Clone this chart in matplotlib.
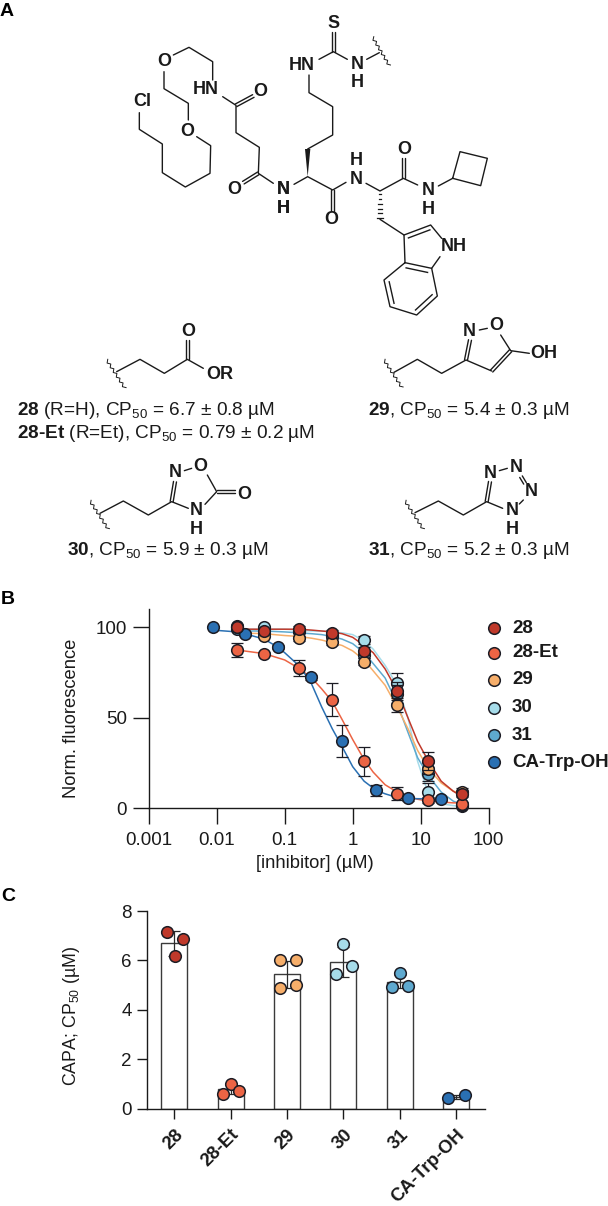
import numpy as np
import matplotlib
matplotlib.use('Agg')
import matplotlib.pyplot as plt
from matplotlib.patches import Polygon
from matplotlib.transforms import ScaledTranslation

plt.rcParams['font.family'] = ['Liberation Sans', 'DejaVu Sans']
plt.rcParams['mathtext.fontset'] = 'custom'
plt.rcParams['mathtext.rm'] = 'Liberation Sans'
plt.rcParams['mathtext.bf'] = 'Liberation Sans:bold'
plt.rcParams['mathtext.it'] = 'Liberation Sans:italic'
plt.rcParams['mathtext.default'] = 'rm'

# ---------- DATA ----------
names = ['28', '28-Et', '29', '30', '31', 'CA-Trp-OH']
colors = {'28': '#c0392b', '28-Et': '#ec6444', '29': '#f6ae6a',
          '30': '#a6dcea', '31': '#5ea9cf', 'CA-Trp-OH': '#2a70b3'}
draw_order = ['30', '31', '28-Et', 'CA-Trp-OH', '29', '28']

conc = [0.02, 0.05, 0.16, 0.49, 1.47, 4.5, 13, 40]
conc_ca = [0.0088, 0.026, 0.08, 0.24, 0.7, 2.2, 6.6, 20]
pts_28 = [100, 98, 99, 97, 87, 65, 26, 8]
pts_28et = [87.5, 85.5, 77.5, 60, 26, 8, 4.5, 2.5]
pts_29 = [100, 95.5, 94, 92, 81, 57, 22, 9]
pts_30 = [100.5, 100, 98, 96, 93, 69, 9, 1]
pts_31 = [99, 97, 98, 95, 85, 63, 19, 2]
pts_ca = [100, 96.3, 89.3, 72.4, 37.2, 10, 5.5, 5]

err_28 = [1, 1, 1.5, 1.5, 2, 5, 5, 2]
err_28et = [4, 1, 4.5, 9, 8, 3.5, 1.5, 1]
err_29 = [1, 1, 1.5, 1.5, 2, 4, 3, 2]
err_30 = [1, 1, 1, 1, 2, 6, 5, 1]
err_31 = [1, 1, 1, 1, 2, 5, 4, 1]
err_ca = [0, 1, 1, 1.5, 9, 3, 1.5, 1]

curve_x = [0.02, 0.05, 0.1, 0.16, 0.25, 0.35, 0.5, 0.7, 1, 1.47, 2, 3, 4.5, 6.5, 9, 13, 20, 30, 40]
curve_28 = [99, 99, 99, 99, 98.5, 98, 97.5, 96.5, 94.5, 90, 86, 77, 65, 50, 37, 26, 15, 9.5, 6.5]
curve_28et = [87.5, 85.5, 82, 77.5, 72, 66, 59, 49, 38, 27, 20, 13, 9, 6.5, 5, 4, 3.5, 3, 3]
curve_29 = [97, 96.5, 95.5, 95, 94, 93, 91.5, 90, 87, 82, 76, 68, 56, 44, 32, 22, 14, 9.5, 8]
curve_30 = [99, 99, 99, 98.5, 98, 98, 97.5, 97, 96, 92.5, 88, 79, 68, 50, 26, 8, 2.5, 1.5, 1]
curve_31 = [98, 98, 97.5, 97, 96.5, 96, 95, 93.5, 91, 86, 80, 72, 58, 42, 28, 18, 9, 4, 2]
curve_x_ca = [0.0088, 0.02, 0.026, 0.05, 0.08, 0.1, 0.16, 0.24, 0.35, 0.5, 0.7, 1, 1.47, 2.2, 3, 4.5, 6.6, 9, 13, 20]
curve_ca = [98.5, 97.5, 96.5, 93.5, 89, 86, 79, 70, 56, 44, 34, 23, 15, 10, 8, 6, 5.5, 5.3, 5.2, 5.1]

points = {'28': pts_28, '28-Et': pts_28et, '29': pts_29, '30': pts_30, '31': pts_31, 'CA-Trp-OH': pts_ca}
errors = {'28': err_28, '28-Et': err_28et, '29': err_29, '30': err_30, '31': err_31, 'CA-Trp-OH': err_ca}
curves = {'28': curve_28, '28-Et': curve_28et, '29': curve_29, '30': curve_30, '31': curve_31, 'CA-Trp-OH': curve_ca}

xticks_b = [0.001, 0.01, 0.1, 1, 10, 100]
xticklabels_b = ['0.001', '0.01', '0.1', '1', '10', '100']
yticks_b = [0, 50, 100]

bar_means = [6.69, 0.78, 5.44, 5.94, 5.14, 0.48]
bar_errs = [0.5, 0.2, 0.55, 0.6, 0.25, 0.08]
rep_28 = [7.14, 6.87, 6.18]
rep_28et = [0.6, 1.0, 0.73]
rep_29 = [6.0, 6.0, 4.87, 5.0]
rep_30 = [6.68, 5.78, 5.47]
rep_31 = [5.5, 4.94, 4.98]
rep_ca = [0.42, 0.54]
off_28 = [-0.13, 0.154, 0.006]
off_28et = [-0.135, 0.0, 0.147]
off_29 = [-0.13, 0.154, -0.13, 0.154]
off_30 = [0.0, 0.154, -0.136]
off_31 = [0.0, -0.142, 0.148]
off_ca = [-0.142, 0.148]
replicates = [rep_28, rep_28et, rep_29, rep_30, rep_31, rep_ca]
offsets = [off_28, off_28et, off_29, off_30, off_31, off_ca]

W, H = 608, 1206
EDGE = '#1c1c24'
MS = 70
MLW = 1.1
fig = plt.figure(figsize=(W / 100, H / 100), dpi=100, facecolor='white')


def axes_px(l, t, r, b):
    return fig.add_axes([l / W, 1 - b / H, (r - l) / W, (b - t) / H])


# ---------- Overlay: structures and text in pixel coordinates ----------
ov = fig.add_axes([0, 0, 1, 1], zorder=0)
ov.set_xlim(0, W)
ov.set_ylim(H, 0)
ov.axis('off')

BK = '#1a1a1a'


def crop(x0, y0):
    return lambda p: (x0 + p[0] / 3, y0 + p[1] / 3)


z4 = crop(0, 0)
z5 = crop(240, 0)
f28 = crop(90, 315)
f29 = crop(380, 315)
f30 = crop(80, 450)
f31 = crop(390, 450)


def line(pts, tf, lw=1.0):
    q = np.array([tf(p) for p in pts])
    ov.plot(q[:, 0], q[:, 1], color=BK, lw=lw, solid_capstyle='round', solid_joinstyle='round')


def dbl(a, b, tf, gap=3, lw=1.0):
    a, b = np.array(tf(a)), np.array(tf(b))
    n = np.array([-(b - a)[1], (b - a)[0]])
    n = n / np.hypot(*n) * gap / 2
    for s in (1, -1):
        ov.plot([a[0] + s * n[0], b[0] + s * n[0]], [a[1] + s * n[1], b[1] + s * n[1]],
                color=BK, lw=lw, solid_capstyle='round')


def atom(s, p, tf, size=13):
    x, y = tf(p)
    ov.text(x, y, s, ha='center', va='center', fontsize=size, fontweight='bold', color=BK,
            linespacing=1.08, multialignment='center')


def squiggle(a, b, tf):
    a, b = np.array(tf(a)), np.array(tf(b))
    d = b - a
    L = np.hypot(*d)
    n = np.array([-d[1], d[0]]) / L
    k = 12
    q = np.array([a + d * i / k + n * (1.3 if i % 2 else -1.3) for i in range(k + 1)])
    ov.plot(q[:, 0], q[:, 1], color=BK, lw=0.7)


def inner(a, b, c, tf, t=0.13):
    a, b, c = [np.array(tf(p)) for p in (a, b, c)]
    a2 = a + (c - a) * t * 1.5
    b2 = b + (c - b) * t * 1.5
    ov.plot([a2[0], b2[0]], [a2[1], b2[1]], color=BK, lw=1.0)


# main scaffold, left part
line([(418, 338), (418, 388), (487, 432), (487, 518), (556, 561), (630, 520), (632, 437), (590, 410)], z4)
line([(565, 360), (565, 310), (492, 266), (492, 215)], z4)
line([(520, 165), (567, 142), (638, 185), (638, 240)], z4)
line([(668, 290), (708, 316), (708, 398), (778, 442), (775, 520), (820, 550)], z4)
dbl((708, 316), (760, 288), z4)
dbl((775, 520), (730, 548), z4)
atom('Cl', (428, 306), z4)
atom('O', (562, 393), z4)
atom('O', (493, 183), z4)
atom('HN', (617, 270), z4)
atom('O', (782, 275), z4)
atom('O', (703, 567), z4)
atom('N\nH', (849, 597), z4)

# main scaffold, right part
line([(162, 553), (203, 530), (278, 570), (318, 547)], z5)
line([(203, 447), (278, 405), (278, 320), (207, 278), (207, 225)], z5)
ov.add_patch(Polygon([z5((203, 530)), z5((195, 447)), z5((211, 447))], closed=True, fc=BK, ec='none'))
line([(237, 178), (280, 155), (322, 178)], z5)
dbl((280, 155), (280, 95), z5)
line([(380, 178), (418, 158)], z5)
squiggle((398, 112), (448, 197), z5)
dbl((278, 570), (278, 632), z5)
line([(378, 550), (420, 573), (490, 535), (533, 555)], z5)
dbl((490, 535), (490, 475), z5)
line([(595, 558), (638, 535)], z5)
line([(638, 535), (660, 455), (742, 475), (722, 557), (638, 535)], z5)
for f in np.linspace(0.12, 0.95, 6):
    cx, cy = z5((420, 573 + 85 * f))
    hw = 0.3 + 2.8 * f
    ov.plot([cx - hw, cx + hw], [cy, cy], color=BK, lw=0.9)
line([(420, 658), (492, 705), (495, 788), (575, 805), (592, 888), (530, 945), (450, 920), (432, 840), (495, 788)], z5)
line([(492, 705), (572, 675), (605, 715)], z5)
line([(600, 770), (575, 805)], z5)
inner((492, 705), (572, 675), (560, 750), z5)
benz_c = (512, 868)
inner((495, 788), (575, 805), benz_c, z5)
inner((592, 888), (530, 945), benz_c, z5)
inner((450, 920), (432, 840), benz_c, z5)
atom('S', (280, 70), z5)
atom('HN', (185, 195), z5)
atom('N\nH', (352, 221), z5)
atom('N\nH', (130, 597), z5)
atom('O', (275, 658), z5)
atom('H\nN', (348, 510), z5)
atom('O', (493, 450), z5)
atom('N\nH', (565, 600), z5)
atom('NH', (640, 740), z5)

# fragment 28
squiggle((50, 135), (105, 220), f28)
line([(80, 170), (150, 133), (223, 175), (292, 133), (340, 160)], f28)
dbl((292, 133), (292, 75), f28)
atom('O', (295, 50), f28)
atom('OR', (390, 178), f28)
# fragment 29
squiggle((12, 135), (66, 218), f29)
line([(42, 172), (112, 133), (185, 175), (258, 135), (335, 168)], f29)
dbl((258, 135), (270, 75), f29)
line([(298, 45), (322, 40)], f29)
line([(362, 60), (392, 107), (448, 115)], f29)
dbl((392, 107), (335, 168), f29)
atom('N', (268, 50), f29)
atom('O', (348, 33), f29)
atom('OH', (492, 115), f29)
# fragment 30
squiggle((30, 153), (85, 238), f30)
line([(60, 190), (130, 153), (205, 195), (275, 155), (325, 175)], f30)
dbl((275, 155), (285, 95), f30)
line([(313, 62), (335, 55)], f30)
line([(382, 75), (410, 125), (375, 163)], f30)
dbl((410, 125), (465, 125), f30)
atom('N', (285, 68), f30)
atom('O', (362, 50), f30)
atom('O', (492, 133), f30)
atom('N\nH', (350, 210), f30)
# fragment 31
squiggle((45, 153), (100, 238), f31)
line([(75, 188), (145, 153), (220, 195), (290, 155), (338, 175)], f31)
dbl((290, 155), (300, 95), f31)
line([(328, 62), (352, 55)], f31)
dbl((393, 80), (405, 100), f31)
line([(400, 150), (388, 162)], f31)
atom('N', (300, 72), f31)
atom('N', (380, 52), f31)
atom('N', (424, 125), f31)
atom('N\nH', (367, 210), f31)

# captions
CAP = 13.7
caps = [(17, 415, r'$\mathbf{28}$ (R=H), CP$_{50}$ = 6.7 ± 0.8 µM'),
        (17, 438, r'$\mathbf{28}$' + r'$\mathbf{‐}$' + r'$\mathbf{Et}$ (R=Et), CP$_{50}$ = 0.79 ± 0.2 µM'),
        (368, 415, r'$\mathbf{29}$, CP$_{50}$ = 5.4 ± 0.3 µM'),
        (67, 555, r'$\mathbf{30}$, CP$_{50}$ = 5.9 ± 0.3 µM'),
        (368, 555, r'$\mathbf{31}$, CP$_{50}$ = 5.2 ± 0.3 µM')]
for x, y, s in caps:
    ov.text(x, y, s, fontsize=CAP, ha='left', va='baseline', color=BK)

# panel letters
for s, x, y in [('A', 0, 16), ('B', 1, 604), ('C', 1, 901)]:
    ov.text(x, y, s, fontsize=14, fontweight='bold', ha='left', va='baseline', color='black')

# legend
leg_y = [628.3, 652.7, 680, 707.7, 735, 762.3]
for n, y in zip(names, leg_y):
    ov.scatter([494], [y], s=MS, color=colors[n], edgecolor=EDGE, linewidth=MLW)
    ov.text(512, y, n, fontsize=13.5, fontweight='bold', ha='left', va='center', color=BK)

# ---------- Panel B ----------
axb = axes_px(148.7, 609.3, 488.7, 808.3)
axb.patch.set_alpha(0)
axb.set_xscale('log')
axb.set_xlim(0.001, 100)
axb.set_ylim(0, 110)
for n in draw_order:
    xs = curve_x_ca if n == 'CA-Trp-OH' else curve_x
    axb.plot(xs, curves[n], color=colors[n], lw=1.1, zorder=2, clip_on=False)
z = 3
for n in draw_order:
    xs = conc_ca if n == 'CA-Trp-OH' else conc
    axb.errorbar(xs, points[n], yerr=errors[n], fmt='none', ecolor=EDGE, elinewidth=0.9,
                 capsize=4.6, capthick=0.9, zorder=z, clip_on=False)
    axb.scatter(xs, points[n], s=MS, color=colors[n], edgecolor=EDGE,
                linewidth=MLW, zorder=z + 0.5, clip_on=False)
    z += 1
for s in ('top', 'right'):
    axb.spines[s].set_visible(False)
for s in ('left', 'bottom'):
    axb.spines[s].set_linewidth(1.0)
    axb.spines[s].set_color(BK)
axb.set_xticks(xticks_b)
axb.set_xticklabels(xticklabels_b)
axb.xaxis.set_minor_locator(matplotlib.ticker.NullLocator())
axb.set_yticks(yticks_b)
axb.tick_params(axis='both', length=11.5, width=1.0, color=BK, labelsize=13.5, labelcolor=BK)
axb.tick_params(axis='x', pad=5.5)
axb.tick_params(axis='y', pad=4)
ov.text(71, 718, 'Norm. fluorescence', rotation=90, fontsize=13.2, ha='center', va='center', color=BK)
ov.text(315, 864, '[inhibitor] (µM)', fontsize=13.2, ha='center', va='center', color=BK)

# ---------- Panel C ----------
axc = axes_px(147, 911, 485, 1108.7)
axc.patch.set_alpha(0)
pos = np.arange(len(names))
axc.set_xlim(-0.484, 5.51)
axc.set_ylim(0, 8)
axc.bar(pos, bar_means, width=0.46, facecolor='white', edgecolor='#3a3a3a', linewidth=1.0, zorder=2)
axc.errorbar(pos, bar_means, yerr=bar_errs, fmt='none', ecolor='#2a2a2a', elinewidth=0.9,
             capsize=4.6, capthick=0.9, zorder=3)
for i, n in enumerate(names):
    axc.scatter(pos[i] + np.array(offsets[i]), replicates[i], s=MS,
                color=colors[n], edgecolor=EDGE, linewidth=MLW, zorder=4, clip_on=False)
for s in ('top', 'right'):
    axc.spines[s].set_visible(False)
for s in ('left', 'bottom'):
    axc.spines[s].set_linewidth(1.0)
    axc.spines[s].set_color(BK)
axc.set_yticks([0, 2, 4, 6, 8])
axc.set_xticks(pos)
axc.set_xticklabels(names, rotation=45, ha='right', rotation_mode='anchor', fontweight='bold', fontsize=13.3)
shift = ScaledTranslation(-5 / 100, 0, fig.dpi_scale_trans)
for lab in axc.get_xticklabels():
    lab.set_transform(lab.get_transform() + shift)
axc.tick_params(axis='both', length=7.5, width=1.0, color=BK, labelcolor=BK)
axc.tick_params(axis='y', labelsize=13.5, pad=3.5)
axc.tick_params(axis='x', pad=5)
ov.text(71, 1016, r'CAPA; CP$_{50}$ (µM)', rotation=90, fontsize=12.8, ha='center', va='center', color=BK)

fig.savefig('out.png', dpi=100, facecolor='white')
